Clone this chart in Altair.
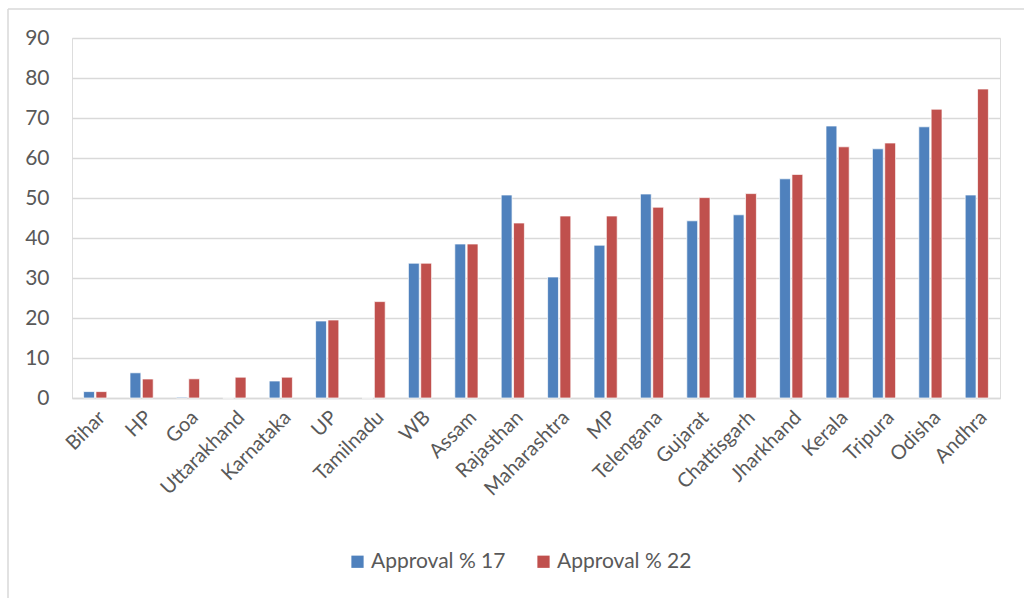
import altair as alt
import pandas as pd

states = ["Bihar", "HP", "Goa", "Uttarakhand", "Karnataka", "UP", "Tamilnadu", "WB",
          "Assam", "Rajasthan", "Maharashtra", "MP", "Telengana", "Gujarat",
          "Chattisgarh", "Jharkhand", "Kerala", "Tripura", "Odisha", "Andhra"]
approval_17 = [1.6, 6.3, 0.2, 0.0, 4.25, 19.25, 0.0, 33.7, 38.5, 50.75, 30.25, 38.2,
               51.0, 44.3, 45.8, 54.8, 68.0, 62.3, 67.8, 50.75]
approval_22 = [1.6, 4.75, 4.8, 5.2, 5.2, 19.5, 24.1, 33.7, 38.5, 43.75, 45.5, 45.5,
               47.7, 50.1, 51.1, 55.9, 62.8, 63.75, 72.2, 77.25]
series = ["Approval % 17", "Approval % 22"]
colors = ["#4F81BD", "#C0504D"]
y_ticks = [0, 10, 20, 30, 40, 50, 60, 70, 80, 90]

rows = []
for s, a, b in zip(states, approval_17, approval_22):
    rows.append({"State": s, "Series": series[0], "Value": a})
    rows.append({"State": s, "Series": series[1], "Value": b})
df = pd.DataFrame(rows)

FONT = "Lato"
GRAY = "#595959"
GRID = "#D9D9D9"

bars = alt.Chart(df).mark_bar(stroke="white", strokeWidth=1, strokeOpacity=0.7).encode(
    x=alt.X("State:N", sort=states,
            scale=alt.Scale(paddingInner=0.5, paddingOuter=0.25),
            axis=alt.Axis(title=None, labelAngle=-45, labelFontSize=20, labelColor=GRAY,
                          labelFont=FONT, ticks=False, domain=True, domainColor=GRID,
                          domainWidth=1.5, labelPadding=9, grid=False)),
    xOffset=alt.XOffset("Series:N", sort=series, scale=alt.Scale(paddingInner=0.12)),
    y=alt.Y("Value:Q", scale=alt.Scale(domain=[0, 90]),
            axis=alt.Axis(values=y_ticks, title=None, grid=True, gridColor=GRID,
                          gridWidth=1.5, domain=False, ticks=False, labelPadding=23,
                          labelFontSize=21, labelColor=GRAY, labelFont=FONT)),
    color=alt.Color("Series:N", sort=series,
                    scale=alt.Scale(domain=series, range=colors),
                    legend=alt.Legend(title=None, orient="none", direction="horizontal",
                                      legendX=275, legendY=513, symbolType="square",
                                      symbolSize=150, symbolStrokeWidth=0,
                                      labelFontSize=21, labelColor=GRAY, labelFont=FONT,
                                      columnPadding=27, labelOffset=3)),
)

frame_df = pd.DataFrame({"a": [0]})
left_edge = alt.Chart(frame_df).mark_rule(color=GRID, strokeWidth=1.5).encode(
    x=alt.value(-64), y=alt.value(-29), y2=alt.value(600))
top_edge = alt.Chart(frame_df).mark_rule(color=GRID, strokeWidth=1.5).encode(
    x=alt.value(-64), x2=alt.value(960), y=alt.value(-29))

chart = alt.layer(left_edge, top_edge, bars).properties(
    width=928, height=360,
    autosize=alt.AutoSizeParams(type="none"),
    padding={"left": 72, "top": 38, "right": 24, "bottom": 200},
).configure_view(stroke=None).configure(background="white")

chart.save("out.html", embed_options={"renderer": "svg", "actions": False})
